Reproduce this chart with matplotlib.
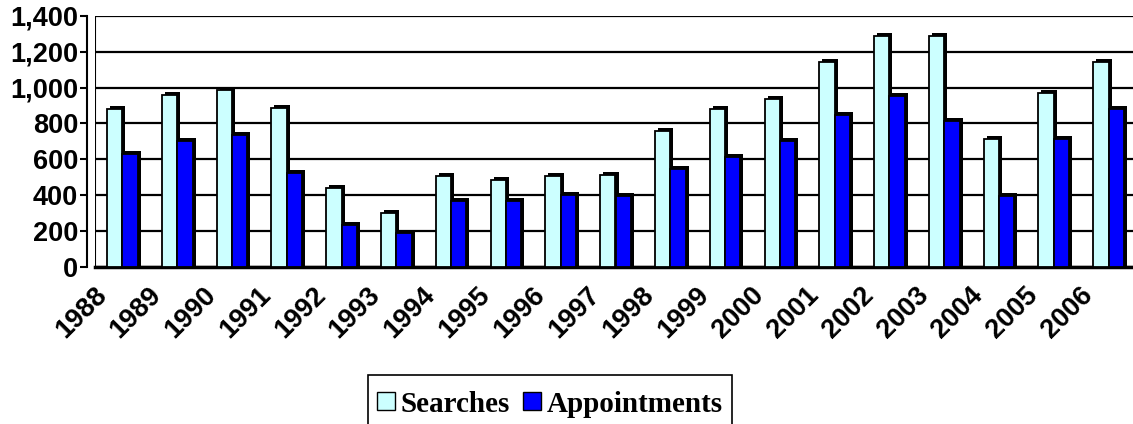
import numpy as np
import matplotlib
matplotlib.use("Agg")
import matplotlib.pyplot as plt
import matplotlib.transforms as mtransforms
from matplotlib.patches import Patch, Rectangle
from matplotlib.ticker import FuncFormatter

# Data
years = ["1988", "1989", "1990", "1991", "1992", "1993", "1994", "1995", "1996", "1997",
         "1998", "1999", "2000", "2001", "2002", "2003", "2004", "2005", "2006"]
searches = [880, 960, 985, 885, 440, 300, 505, 485, 505, 512,
            760, 880, 935, 1140, 1285, 1285, 712, 970, 1140]
appointments = [632, 700, 735, 522, 234, 190, 368, 368, 400, 395,
                545, 614, 703, 848, 950, 815, 395, 712, 880]

c_search = "#CCFFFF"
c_appt = "#0000FF"

fig = plt.figure(figsize=(11.33, 4.24), dpi=100)
W, H = 1133, 424
ax = fig.add_axes([95 / W, 1 - 267 / H, (1136 - 95) / W, (267 - 15.7) / H])

x = np.arange(len(years))
w = 0.28
dx, dy = 0.055, 17  # fake 3D depth

# shadows (side + top of the 3D bars)
ax.bar(x - w / 2 + dx, np.array(searches) + dy, w, color="black", zorder=2)
ax.bar(x + w / 2 + dx, np.array(appointments) + dy, w, color="black", zorder=2)
# front faces
ax.bar(x - w / 2, searches, w, color=c_search, edgecolor="black", linewidth=1.3, zorder=3)
ax.bar(x + w / 2, appointments, w, color=c_appt, edgecolor="black", linewidth=1.3, zorder=3)

ax.set_xlim(-0.5, len(years) - 0.5)
ax.set_ylim(0, 1400)
ax.set_yticks(range(0, 1401, 200))
ax.yaxis.set_major_formatter(FuncFormatter(lambda v, p: f"{int(v):,}"))
ax.yaxis.grid(True, color="black", linewidth=1.6, zorder=0)
ax.set_axisbelow(True)

for s in ["top", "right"]:
    ax.spines[s].set_visible(False)
ax.spines["left"].set_position(("outward", 6))
ax.spines["left"].set_linewidth(1.5)
ax.spines["bottom"].set_linewidth(2.5)
ax.axvline(-0.5, color="black", linewidth=1.5, zorder=1)

ax.tick_params(axis="y", length=5, width=1.5, pad=1, labelsize=19.5)
ax.tick_params(axis="x", length=0, pad=11, labelsize=19.5)
for lab in ax.get_yticklabels():
    lab.set_fontweight("bold")
    lab.set_family("Liberation Sans")

ax.set_xticks(x)
ax.set_xticklabels(years, rotation=45, ha="right", va="top", rotation_mode="anchor",
                   fontweight="bold", family="Liberation Sans")
offset = mtransforms.ScaledTranslation(-0.29, 0, fig.dpi_scale_trans)
for lab in ax.get_xticklabels():
    lab.set_transform(lab.get_transform() + offset)

# legend box (bottom edge runs off the picture, as in the original)
fig.patches.append(Rectangle((368 / W, 1 - 440 / H), (732 - 368) / W, (440 - 375) / H,
                             transform=fig.transFigure, facecolor="white",
                             edgecolor="black", linewidth=1.2))
handles = [Patch(facecolor=c_search, edgecolor="black", label="Searches"),
           Patch(facecolor=c_appt, edgecolor="black", label="Appointments")]
leg = fig.legend(handles=handles, loc="center", bbox_to_anchor=(550 / W, 1 - 404 / H),
                 ncol=2, frameon=False,
                 prop={"family": "Liberation Serif", "weight": "bold", "size": 21},
                 handlelength=0.6, handleheight=0.55, handletextpad=0.2,
                 columnspacing=0.45, borderpad=0, borderaxespad=0)

fig.savefig("out.png", dpi=100)
